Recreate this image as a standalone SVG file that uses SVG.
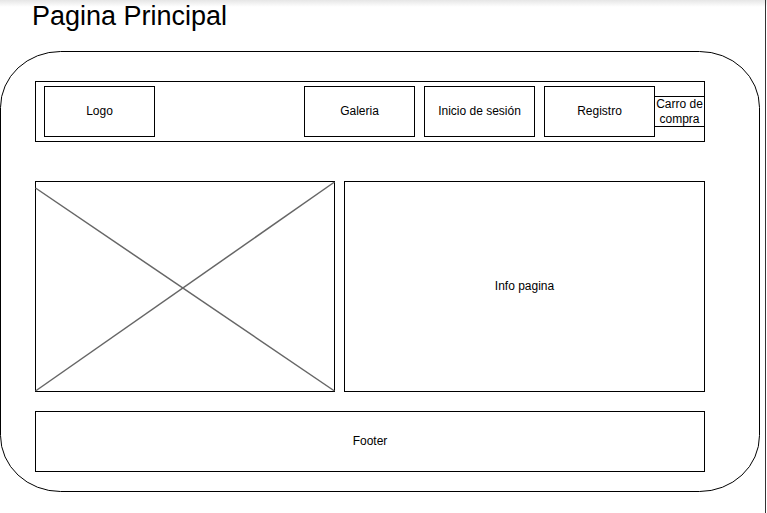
<svg xmlns="http://www.w3.org/2000/svg" width="767" height="513" viewBox="0 0 767 513">
  <defs>
    <linearGradient id="topShade" x1="0" y1="0" x2="0" y2="1">
      <stop offset="0" stop-color="#e6e6e6"/>
      <stop offset="1" stop-color="#ffffff"/>
    </linearGradient>
  </defs>
  <style>
    .box { fill: #ffffff; stroke: #000000; stroke-width: 1; }
    .lbl { font-family: "Liberation Sans", Arial, sans-serif; font-size: 12px; fill: #000000; text-anchor: middle; dominant-baseline: central; }
    .cross { stroke: #666666; stroke-width: 1.5; fill: none; }
  </style>
  <rect x="0" y="0" width="767" height="513" fill="#ffffff"/>
  <rect x="0" y="0" width="767" height="7" fill="url(#topShade)"/>
  <line x1="765.5" y1="0" x2="765.5" y2="513" stroke="#333333" stroke-width="1"/>

  <text id="title" x="32" y="25" font-family="Liberation Sans, Arial, sans-serif" font-size="27" fill="#000000">Pagina Principal</text>

  <g id="page">
    <rect x="0.5" y="51.5" width="759" height="440" rx="60" ry="56" class="box"/>
  </g>

  <g id="header">
    <rect x="35.5" y="81.5" width="669" height="60" class="box"/>
  </g>
  <g id="logo">
    <rect x="44.5" y="86.5" width="110" height="50" class="box"/>
    <text x="99.5" y="110.5" class="lbl">Logo</text>
  </g>
  <g id="galeria">
    <rect x="304.5" y="86.5" width="110" height="50" class="box"/>
    <text x="359.5" y="110.5" class="lbl">Galeria</text>
  </g>
  <g id="inicio">
    <rect x="424.5" y="86.5" width="110" height="50" class="box"/>
    <text x="479.5" y="110.5" class="lbl">Inicio de sesión</text>
  </g>
  <g id="registro">
    <rect x="544.5" y="86.5" width="110" height="50" class="box"/>
    <text x="599.5" y="110.5" class="lbl">Registro</text>
  </g>
  <g id="carro">
    <rect x="654.5" y="96.5" width="50" height="30" class="box"/>
    <text x="679.5" y="103.5" class="lbl">Carro de</text>
    <text x="679.5" y="118.5" class="lbl">compra</text>
  </g>

  <g id="imagen">
    <rect x="35.5" y="181.5" width="299" height="210" class="box"/>
    <line x1="35.5" y1="188" x2="334.5" y2="391" class="cross"/>
    <line x1="35.5" y1="391" x2="334.5" y2="182" class="cross"/>
  </g>
  <g id="info">
    <rect x="344.5" y="181.5" width="360" height="210" class="box"/>
    <text x="524.5" y="285.5" class="lbl">Info pagina</text>
  </g>
  <g id="footer">
    <rect x="35.5" y="411.5" width="669" height="60" class="box"/>
    <text x="370" y="440.5" class="lbl">Footer</text>
  </g>
  <g id="connectors"></g>
</svg>
